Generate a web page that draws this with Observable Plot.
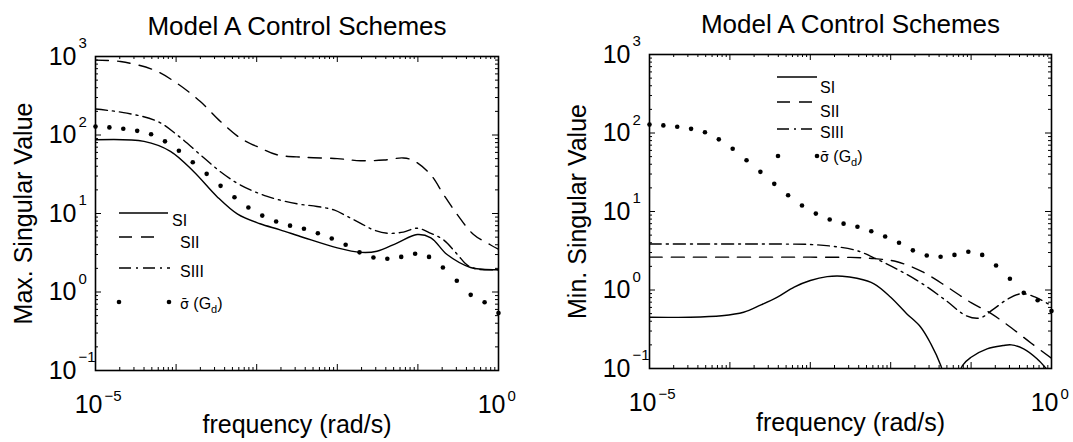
<!DOCTYPE html>
<html>
<head>
<meta charset="utf-8">
<script src="https://cdn.jsdelivr.net/npm/d3@7"></script>
<script src="https://cdn.jsdelivr.net/npm/@observablehq/plot@0.6"></script>
<style>
  html, body { margin: 0; padding: 0; background: #fff; }
  #row { display: flex; width: 1073px; height: 442px; overflow: hidden; }
  #row svg { display: block; flex: none; }
</style>
</head>
<body>
<div id="row"></div>
<script>
// ---------- data ----------
const seriesNames = ["SI", "SII", "SIII"];
const gdSymbol = "σ̄";       // sigma-bar, then " (G", subscript "d", ")"
const panelTitle = "Model A Control Schemes";
const xLabel = "frequency (rad/s)";
const yLabels = ["Max. Singular Value", "Min. Singular Value"];

// tick labels (base 10 with exponent)
const yTickValues = [0.1, 1, 10, 100, 1000];
const yTickExps = ["−1", "0", "1", "2", "3"];
const xTickValues = [1e-5, 1];
const xTickExps = ["−5", "0"];

// largest singular value of the disturbance model, sampled on a log grid
const gdFreq = [1e-5, 1.487e-5, 2.212e-5, 3.290e-5, 4.894e-5, 7.279e-5, 1.083e-4, 1.610e-4,
  2.395e-4, 3.562e-4, 5.298e-4, 7.880e-4, 1.172e-3, 1.743e-3, 2.593e-3, 3.857e-3, 5.736e-3,
  8.532e-3, 1.269e-2, 1.887e-2, 2.807e-2, 4.175e-2, 6.210e-2, 9.237e-2, 0.1374, 0.2043,
  0.3039, 0.4520, 0.6723, 1];
const gdValue = [128, 125, 120, 113, 102, 83, 63, 45, 32, 22.5, 16.1, 11.9, 9.4, 7.9, 7.0,
  6.4, 5.6, 4.8, 4.0, 3.2, 2.75, 2.65, 2.8, 3.07, 2.8, 2.05, 1.39, 0.92, 0.74, 0.54];

// maximum singular values of the closed loop, per scheme
const maxSIFreq = [1e-5, 4e-5, 8.5e-5, 1.66e-4, 3.2e-4, 5.8e-4, 1.1e-3, 1.95e-3, 3.8e-3,
  1e-2, 1.95e-2, 3.1e-2, 5.5e-2, 0.098, 0.145, 0.23, 0.45, 0.63, 1];
const maxSIValue = [87, 83, 62, 34, 16.5, 9.8, 7.4, 6.2, 4.95, 3.65, 3.2, 3.3, 4.2, 5.4, 4.9,
  3.0, 2.05, 1.95, 1.92];

const maxSIIFreq = [1e-5, 2.04e-5, 5.25e-5, 1.02e-4, 2e-4, 3.55e-4, 6.3e-4, 1.12e-3, 1.78e-3,
  3.8e-3, 1e-2, 1.95e-2, 3.8e-2, 6.6e-2, 8.9e-2, 0.145, 0.209, 0.31, 0.49, 0.79, 1];
const maxSIIValue = [900, 863, 676, 457, 267, 149, 91, 68, 56, 52, 50, 47, 48, 51, 47, 31, 17.3,
  9.6, 5.4, 4.0, 3.5];

const maxSIIIFreq = [1e-5, 2.45e-5, 5.9e-5, 1.02e-4, 2e-4, 3.55e-4, 6.3e-4, 1.35e-3, 3.16e-3,
  5.6e-3, 9.1e-3, 1.32e-2, 1.95e-2, 2.8e-2, 4.2e-2, 6.6e-2, 9.8e-2, 0.145, 0.209, 0.31, 0.41,
  0.56, 1];
const maxSIIIValue = [214, 190, 149, 101, 56, 34, 23, 16.5, 13.3, 12.3, 11.1, 9.2, 7.5, 6.2, 5.6,
  5.8, 6.5, 5.6, 4.6, 3.0, 2.2, 1.95, 1.92];

// minimum singular values of the closed loop, per scheme
const minSIFreq = [1e-5, 3.16e-5, 7.9e-5, 1.48e-4, 2.4e-4, 3.9e-4, 6.3e-4, 1e-3, 1.62e-3, 2.5e-3,
  3.8e-3, 6.2e-3, 1e-2, 1.58e-2, 2.34e-2, 3.16e-2, 4.2e-2, 5.6e-2, 7.8e-2, 0.1, 0.158, 0.25,
  0.316, 0.45, 0.66, 1];
const minSIValue = [0.45, 0.45, 0.47, 0.52, 0.64, 0.81, 1.09, 1.32, 1.48, 1.5, 1.41, 1.2, 0.81,
  0.5, 0.34, 0.206, 0.109, 0.04, 0.109, 0.139, 0.178, 0.196, 0.2, 0.178, 0.133, 0.083];

const minSIIFreq = [1e-5, 1e-4, 1e-3, 3.16e-3, 6.3e-3, 1.2e-2, 2.5e-2, 5e-2, 0.1, 0.178, 0.316,
  0.56, 1];
const minSIIValue = [2.62, 2.62, 2.62, 2.6, 2.51, 2.29, 1.7, 1.1, 0.69, 0.5, 0.33, 0.21, 0.135];

const minSIIIFreq = [1e-5, 1e-4, 3.16e-4, 1e-3, 1.9e-3, 3.7e-3, 6.8e-3, 1.23e-2, 2.45e-2, 4.9e-2,
  8.7e-2, 0.129, 0.19, 0.288, 0.427, 0.63, 1];
const minSIIIValue = [3.85, 3.85, 3.85, 3.8, 3.6, 3.2, 2.46, 1.82, 1.21, 0.73, 0.47, 0.44, 0.57,
  0.77, 0.90, 0.81, 0.63];

// ---------- helpers ----------
const FONT = "'Liberation Sans', Arial, Helvetica, sans-serif";
const H = 442;
const rows = (f, v) => f.map((d, i) => ({f: d, v: v[i]}));
const gdRows = rows(gdFreq, gdValue);

const dashStyles = [null, "13,9", "12,5,2,5"];

const yMajor = yTickValues;
const yMinor = yTickValues.slice(0, -1).flatMap(d => [2, 3, 4, 5, 6, 7, 8, 9].map(k => k * d));
const xMajor = [1e-5, 1e-4, 1e-3, 1e-2, 1e-1, 1];
const xMinor = xMajor.slice(0, -1).flatMap(d => [2, 3, 4, 5, 6, 7, 8, 9].map(k => k * d));
const yTicks = yTickValues.map((v, i) => ({v, e: yTickExps[i]}));
const xTicks = xTickValues.map((v, i) => ({v, e: xTickExps[i]}));

function panel({width, mL, mR, mT, mB, ylabel, series}) {
  const fw = width - mL - mR, fh = H - mT - mB;
  const major = 6, minor = 3;
  return Plot.plot({
    width, height: H,
    marginLeft: mL, marginRight: mR, marginTop: mT, marginBottom: mB,
    x: {type: "log", domain: [1e-5, 1], axis: null},
    y: {type: "log", domain: [0.1, 1000], axis: null},
    style: {fontFamily: FONT, background: "white", color: "black", overflow: "visible"},
    marks: [
      ...series.map((s, i) => Plot.line(s, {
        x: "f", y: "v", stroke: "black", strokeWidth: 1.4,
        strokeDasharray: dashStyles[i], curve: "catmull-rom", clip: true
      })),
      Plot.dot(gdRows, {x: "f", y: "v", r: 2.3, fill: "black", stroke: null}),
      Plot.frame({stroke: "black", strokeWidth: 1.6}),
      // inward ticks on all four sides
      Plot.tickX(xMajor, {x: d => d, insetTop: fh - major}),
      Plot.tickX(xMajor, {x: d => d, insetBottom: fh - major}),
      Plot.tickX(xMinor, {x: d => d, insetTop: fh - minor}),
      Plot.tickX(xMinor, {x: d => d, insetBottom: fh - minor}),
      Plot.tickY(yMajor, {y: d => d, insetRight: fw - major}),
      Plot.tickY(yMajor, {y: d => d, insetLeft: fw - major}),
      Plot.tickY(yMinor, {y: d => d, insetRight: fw - minor}),
      Plot.tickY(yMinor, {y: d => d, insetLeft: fw - minor}),
      // tick labels: 10 with raised exponent
      Plot.text(yTicks, {y: "v", frameAnchor: "left", text: () => "10", textAnchor: "end",
        dx: -19, fontSize: 25, lineAnchor: "middle"}),
      Plot.text(yTicks, {y: "v", frameAnchor: "left", text: "e", textAnchor: "start",
        dx: -17, dy: -13, fontSize: 15, lineAnchor: "middle"}),
      Plot.text(xTicks, {x: "v", frameAnchor: "bottom", text: () => "10", textAnchor: "end",
        dx: 7, dy: 34, fontSize: 25, lineAnchor: "middle"}),
      Plot.text(xTicks, {x: "v", frameAnchor: "bottom", text: "e", textAnchor: "start",
        dx: 9, dy: 26, fontSize: 15, lineAnchor: "middle"}),
      // title and axis labels
      Plot.text([panelTitle], {frameAnchor: "top", text: d => d, dy: -22, fontSize: 26,
        textAnchor: "middle", lineAnchor: "bottom"}),
      Plot.text([xLabel], {frameAnchor: "bottom", text: d => d, dy: 62, fontSize: 25,
        textAnchor: "middle", lineAnchor: "bottom"}),
      Plot.text([ylabel], {frameAnchor: "left", text: d => d, dx: -72, rotate: -90,
        fontSize: 25, textAnchor: "middle", lineAnchor: "middle"})
    ]
  });
}

// unboxed legend: line sample, then the scheme name
function legend(svg, entries) {
  const g = d3.select(svg).append("g")
    .attr("font-family", FONT).attr("font-size", 16).attr("fill", "black")
    .attr("text-anchor", "start");
  entries.forEach((e, i) => {
    if (i < seriesNames.length) {
      g.append("line").attr("x1", e.x1).attr("x2", e.x2).attr("y1", e.y).attr("y2", e.y)
        .attr("stroke", "black").attr("stroke-width", 1.4)
        .attr("stroke-dasharray", dashStyles[i]);
      g.append("text").attr("x", e.tx).attr("y", e.ty).attr("dy", "0.35em").text(seriesNames[i]);
    } else {
      for (const x of [e.x1, e.x2]) g.append("circle").attr("cx", x).attr("cy", e.y).attr("r", 2.3);
      const t = g.append("text").attr("x", e.tx).attr("y", e.ty).attr("dy", "0.35em");
      t.append("tspan").attr("font-family", "'DejaVu Sans', sans-serif").attr("font-size", 14)
        .text(gdSymbol);
      t.append("tspan").text(" (G");
      t.append("tspan").attr("font-size", 11).attr("dy", 4).text("d");
      t.append("tspan").attr("dy", -4).text(")");
    }
  });
}

const left = panel({
  width: 536, mL: 95, mR: 38, mT: 56, mB: 72, ylabel: yLabels[0],
  series: [rows(maxSIFreq, maxSIValue), rows(maxSIIFreq, maxSIIValue), rows(maxSIIIFreq, maxSIIIValue)]
});
const right = panel({
  width: 537, mL: 113, mR: 22, mT: 54, mB: 74, ylabel: yLabels[1],
  series: [rows(minSIFreq, minSIValue), rows(minSIIFreq, minSIIValue), rows(minSIIIFreq, minSIIIValue)]
});

legend(left, [
  {x1: 119, x2: 168, y: 213, tx: 172, ty: 220},
  {x1: 119, x2: 158, y: 237, tx: 180, ty: 242},
  {x1: 119, x2: 170, y: 268, tx: 180, ty: 271},
  {x1: 119, x2: 169, y: 302, tx: 180, ty: 303}
]);
legend(right, [
  {x1: 241, x2: 281, y: 77, tx: 284, ty: 87},
  {x1: 241, x2: 279, y: 102, tx: 284, ty: 111},
  {x1: 241, x2: 276, y: 129, tx: 284, ty: 132},
  {x1: 242, x2: 281, y: 156, tx: 284, ty: 156}
]);

const row = document.getElementById("row");
row.appendChild(left);
row.appendChild(right);
</script>
</body>
</html>
